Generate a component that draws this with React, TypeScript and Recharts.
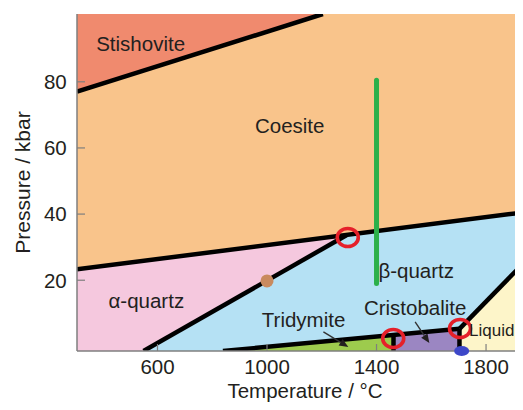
import React from 'react';
import {
  ComposedChart,
  XAxis,
  YAxis,
  Area,
  Line,
  Scatter,
  ReferenceLine,
  ReferenceDot,
  Label,
} from 'recharts';

// ---------- axes ----------
const T_DOMAIN: [number, number] = [306, 1935];
const P_DOMAIN: [number, number] = [-1.4, 100.5];
const xTicks = [600, 1000, 1400, 1800];
const yTicks = [20, 40, 60, 80];

// ---------- phase fields: T (°C) with [P low, P high] (kbar) ----------
const coesiteRegion = [
  { T: 306, r: [-1.4, 100.5] },
  { T: 1935, r: [-1.4, 100.5] },
];
const stishoviteRegion = [
  { T: 306, r: [77, 100.5] },
  { T: 1204, r: [100.5, 100.5] },
];
const alphaQuartzRegion = [
  { T: 306, r: [-1.4, 23.3] },
  { T: 1935, r: [-1.4, 40.5] },
];
const betaQuartzRegion = [
  { T: 549, r: [-1.4, -1.4] },
  { T: 1290, r: [-1.4, 33.6] },
  { T: 1935, r: [-1.4, 40.5] },
];
const tridymiteRegion = [
  { T: 839, r: [-1.4, -1.4] },
  { T: 1462, r: [-1.4, 3.4] },
];
const cristobaliteRegion = [
  { T: 1462, r: [-1.4, 3.4] },
  { T: 1703, r: [-1.4, 5.3] },
];
const liquidRegion = [
  { T: 1703, r: [-1.4, 5.3] },
  { T: 1935, r: [-1.4, 25] },
];

// ---------- phase boundaries ----------
const stishoviteCoesiteLine = [
  { T: 306, P: 77 },
  { T: 1204, P: 100.5 },
];
const coesiteQuartzLine = [
  { T: 306, P: 23.3 },
  { T: 1935, P: 40.5 },
];
const alphaBetaLine = [
  { T: 549, P: -1.4 },
  { T: 1290, P: 33.6 },
];
const tridymiteLine = [
  { T: 839, P: -1.4 },
  { T: 1703, P: 5.3 },
];
const tridymiteCristobaliteLine = [
  { T: 1462, P: 3.4 },
  { T: 1462, P: -1.4 },
];
const cristobaliteLiquidLine = [
  { T: 1703, P: 5.3 },
  { T: 1703, P: -1.4 },
];
const liquidusLine = [
  { T: 1703, P: 5.3 },
  { T: 1935, P: 25 },
];
const greenPath = [
  { T: 1400, P: 80.5 },
  { T: 1400, P: 19 },
];

// ---------- markers ----------
const triplePoints = [
  { T: 1295, P: 32.9 },
  { T: 1461, P: 2.4 },
  { T: 1705, P: 5.4 },
];
const brownPoint = [{ T: 1000, P: 19.8 }];
const bluePoint = { T: 1711, P: -1.4 };

// ---------- labels ----------
const phaseLabels = [
  { T: 376, P: 89.4, text: 'Stishovite' },
  { T: 956, P: 64.5, text: 'Coesite' },
  { T: 421, P: 11.7, text: 'α-quartz' },
  { T: 1407, P: 20.6, text: 'β-quartz' },
  { T: 981, P: 5.9, text: 'Tridymite' },
  { T: 1354, P: 9.4, text: 'Cristobalite' },
];
const liquidLabel = [{ T: 1738, P: 3.2, text: 'Liquid' }];
const tridymiteArrow = [
  { T: 1206, P: 4.4 },
  { T: 1297, P: -0.2 },
];
const cristobaliteArrow = [
  { T: 1541, P: 7.4 },
  { T: 1593, P: 1.0 },
];

const FONT = '"Liberation Sans", Arial, Helvetica, sans-serif';
const TEXT = '#231f20';
const FRAME = '#7f7f7f';

const XTick = (props: any) => {
  const { x, y, payload } = props;
  return (
    <g>
      <line x1={x} x2={x} y1={y} y2={y - 7} stroke={FRAME} strokeWidth={1.2} />
      <text x={x} y={y + 22.5} textAnchor="middle" fontSize={20.5} fontFamily={FONT} fill={TEXT}>
        {payload.value}
      </text>
    </g>
  );
};

const YTick = (props: any) => {
  const { x, y, payload } = props;
  return (
    <g>
      <line x1={x} x2={x + 8} y1={y} y2={y} stroke={FRAME} strokeWidth={1.2} />
      <text x={x - 10.3} y={y} dy="0.355em" textAnchor="end" fontSize={20.5} fontFamily={FONT} fill={TEXT}>
        {payload.value}
      </text>
    </g>
  );
};

const PhaseText = (props: any) => (
  <text x={props.cx} y={props.cy} fontSize={20.5} fontFamily={FONT} fill={TEXT}>
    {props.payload.text}
  </text>
);

const SmallPhaseText = (props: any) => (
  <text x={props.cx} y={props.cy} fontSize={17} fontFamily={FONT} fill={TEXT}>
    {props.payload.text}
  </text>
);

const RedRing = (props: any) => (
  <ellipse cx={props.cx} cy={props.cy} rx={10.5} ry={9} fill="none" stroke="#e5202a" strokeWidth={3.6} />
);

const BrownDot = (props: any) => <circle cx={props.cx} cy={props.cy} r={6.5} fill="#c98a5e" />;

const BlueDot = (props: any) => <ellipse cx={props.cx} cy={props.cy} rx={7.5} ry={5} fill="#3d47c8" />;

const ArrowShape = (props: any) => {
  const { x1, y1, x2, y2 } = props;
  const ang = Math.atan2(y2 - y1, x2 - x1);
  const L = 9;
  const W = 3.8;
  const bx = x2 - L * Math.cos(ang);
  const by = y2 - L * Math.sin(ang);
  const px = -Math.sin(ang) * W;
  const py = Math.cos(ang) * W;
  return (
    <g>
      <line x1={x1} y1={y1} x2={bx} y2={by} stroke="#333" strokeWidth={1.4} />
      <polygon points={`${x2},${y2} ${bx + px},${by + py} ${bx - px},${by - py}`} fill={TEXT} />
    </g>
  );
};

const regionArea = (data: any[], fill: string, key: string) => (
  <Area
    key={key}
    data={data}
    dataKey="r"
    type="linear"
    stroke="none"
    fill={fill}
    fillOpacity={1}
    isAnimationActive={false}
    dot={false}
    activeDot={false}
  />
);

const boundary = (data: any[], key: string) => (
  <Line
    key={key}
    data={data}
    dataKey="P"
    type="linear"
    stroke="#000"
    strokeWidth={4.5}
    dot={false}
    activeDot={false}
    isAnimationActive={false}
  />
);

const toSeg = (d: { T: number; P: number }[]) => d.map((p) => ({ x: p.T, y: p.P }));

export default function App() {
  return (
    <div style={{ margin: -8, width: 523, height: 410, overflow: 'hidden', background: '#fff' }}>
      <ComposedChart width={523} height={410} margin={{ top: 14, right: 0, bottom: 0, left: 0 }}>
        {regionArea(coesiteRegion, '#f9c48b', 'coe')}
        {regionArea(stishoviteRegion, '#f08a6e', 'sti')}
        {regionArea(alphaQuartzRegion, '#f5c8de', 'aq')}
        {regionArea(betaQuartzRegion, '#b5e1f4', 'bq')}
        {regionArea(tridymiteRegion, '#9dcb4d', 'tri')}
        {regionArea(cristobaliteRegion, '#9b86c2', 'cri')}
        {regionArea(liquidRegion, '#fdf5c9', 'liq')}

        {boundary(stishoviteCoesiteLine, 'b1')}
        {boundary(coesiteQuartzLine, 'b2')}
        {boundary(alphaBetaLine, 'b3')}
        {boundary(tridymiteLine, 'b4')}
        {boundary(tridymiteCristobaliteLine, 'b5')}
        {boundary(cristobaliteLiquidLine, 'b6')}
        {boundary(liquidusLine, 'b7')}

        <Line
          data={greenPath}
          dataKey="P"
          type="linear"
          stroke="#2cb04a"
          strokeWidth={5}
          strokeLinecap="round"
          dot={false}
          activeDot={false}
          isAnimationActive={false}
        />

        <Scatter data={triplePoints} dataKey="P" shape={RedRing} isAnimationActive={false} />
        <Scatter data={brownPoint} dataKey="P" shape={BrownDot} isAnimationActive={false} />
        <ReferenceDot x={bluePoint.T} y={bluePoint.P} ifOverflow="visible" shape={BlueDot} />

        <ReferenceLine segment={toSeg(tridymiteArrow)} shape={ArrowShape} ifOverflow="visible" />
        <ReferenceLine segment={toSeg(cristobaliteArrow)} shape={ArrowShape} ifOverflow="visible" />

        <Scatter data={phaseLabels} dataKey="P" shape={PhaseText} isAnimationActive={false} />
        <Scatter data={liquidLabel} dataKey="P" shape={SmallPhaseText} isAnimationActive={false} />

        <XAxis
          dataKey="T"
          type="number"
          domain={T_DOMAIN}
          allowDataOverflow
          ticks={xTicks}
          tick={XTick}
          tickLine={false}
          tickSize={0}
          tickMargin={0}
          height={59}
          axisLine={{ stroke: FRAME, strokeWidth: 1.5 }}
        >
          <Label
            value="Temperature / °C"
            position="insideBottom"
            offset={12.5}
            dx={5}
            fontSize={20.5}
            fontFamily={FONT}
            fill={TEXT}
          />
        </XAxis>
        <XAxis
          xAxisId="top"
          orientation="top"
          type="number"
          domain={T_DOMAIN}
          allowDataOverflow
          tick={false}
          tickLine={false}
          height={0}
          axisLine={{ stroke: FRAME, strokeWidth: 1.5 }}
        />
        <YAxis
          dataKey="P"
          type="number"
          domain={P_DOMAIN}
          allowDataOverflow
          ticks={yTicks}
          tick={YTick}
          tickLine={false}
          tickSize={0}
          tickMargin={0}
          width={77}
          axisLine={{ stroke: FRAME, strokeWidth: 1.5 }}
        >
          <Label
            value="Pressure / kbar"
            angle={-90}
            position="insideLeft"
            offset={23}
            style={{ textAnchor: 'middle' }}
            fontSize={21}
            fontFamily={FONT}
            fill={TEXT}
          />
        </YAxis>
      </ComposedChart>
    </div>
  );
}
